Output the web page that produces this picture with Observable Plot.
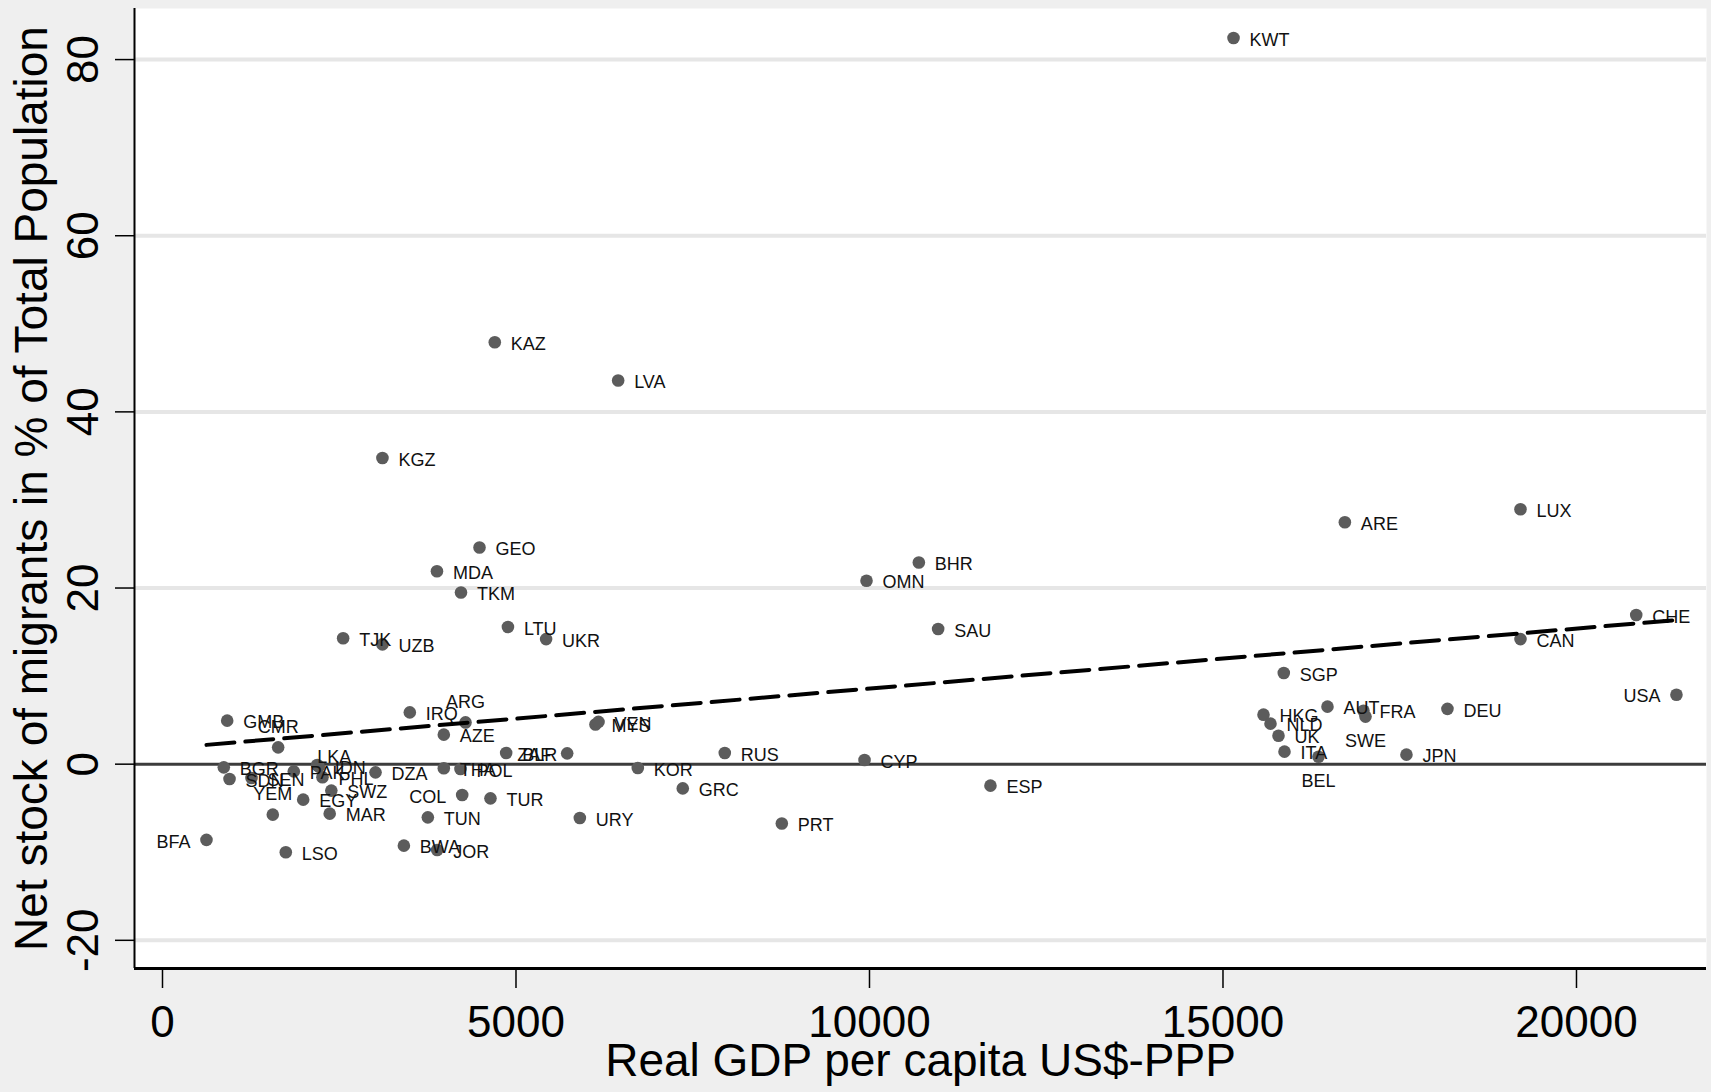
<!DOCTYPE html>
<html>
<head>
<meta charset="utf-8">
<script src="https://cdn.jsdelivr.net/npm/d3@7"></script>
<script src="https://cdn.jsdelivr.net/npm/@observablehq/plot@0.6"></script>
<style>
  html, body { margin: 0; padding: 0; background: #efefef; }
  #chart svg { display: block; }
</style>
</head>
<body>
<div id="chart"></div>
<script>
// ---- data ----
const countries = ["KWT","KAZ","LVA","KGZ","GEO","MDA","TKM","LTU","UKR","TJK","UZB",
  "ARE","LUX","BHR","OMN","SAU","CHE","CAN","SGP","USA","DEU","AUT","FRA","SWE","HKG",
  "NLD","UK","ITA","BEL","JPN","GMB","CMR","BGR","SDN","SEN","YEM","LSO","BFA","PAK",
  "LKA","IDN","PHL","EGY","SWZ","MAR","DZA","IRQ","ARG","AZE","THA","POL","COL","TUR",
  "TUN","BWA","JOR","BLR","ZAF","MYS","VEN","KOR","GRC","RUS","URY","PRT","CYP","ESP"];
const gdpPerCapita = [15149,4700,6445,3111,4484,3882,4222,4886,5426,2555,3111,
  16724,19208,10698,9958,10971,20845,19208,15860,21414,18175,16478,16987,17016,15573,
  15672,15785,15870,16351,17595,915,1636,867,948,1259,1560,1744,622,1857,
  2188,2210,2263,1990,2388,2365,3013,3498,4286,3979,3979,4215,4239,4639,
  3753,3414,3885,4861,5724,6124,6167,6723,7359,7953,5903,8760,9930,11711];
const netMigrants = [82.45,47.9,43.56,34.77,24.6,21.9,19.5,15.57,14.2,14.3,13.6,
  27.46,28.94,22.9,20.83,15.35,16.93,14.2,10.36,7.89,6.28,6.53,6.07,5.4,5.62,
  4.6,3.23,1.42,0.85,1.08,4.94,1.91,-0.36,-1.68,-1.57,-5.73,-10.0,-8.6,-0.82,
  -0.09,-0.28,-1.48,-4.03,-3.0,-5.62,-0.93,5.88,4.74,3.35,-0.47,-0.55,-3.5,-3.88,
  -6.04,-9.25,-9.74,1.27,1.23,4.5,4.8,-0.43,-2.75,1.27,-6.11,-6.73,0.47,-2.44];
// fitted line end points
const fitX = [622, 21414];
const fitY = [2.19, 16.36];
// ticks and labels
const xTicks = [0, 5000, 10000, 15000, 20000];
const yTicks = [-20, 0, 20, 40, 60, 80];
const xTitle = "Real GDP per capita US$-PPP";
const yTitle = "Net stock of migrants in % of Total Population";
// label placement groups (clock positions)
const labelLeft = ["BFA","USA","COL","ZAF"];
const labelTop = ["CMR","YEM","ARG"];
const labelTopRight = ["LKA"];
const labelBottom = ["BEL","SWE"];

const xDomain = [-396, 21839];
const yDomain = [-23.2, 85.8];

const points = countries.map((c, i) => ({code: c, x: gdpPerCapita[i], y: netMigrants[i]}));
const fit = fitX.map((x, i) => ({x, y: fitY[i]}));
const special = new Set([...labelLeft, ...labelTop, ...labelTopRight, ...labelBottom]);

const FONT = "'Liberation Sans', Arial, Helvetica, sans-serif";
const labelStyle = {x: "x", y: "y", text: "code", fontSize: 18, fill: "#111", fontFamily: FONT};

const chart = Plot.plot({
  width: 1711,
  height: 1092,
  marginLeft: 134,
  marginRight: 5,
  marginTop: 8,
  marginBottom: 124,
  style: {background: "#efefef", fontFamily: FONT},
  x: {domain: xDomain, axis: null},
  y: {domain: yDomain, axis: null},
  marks: [
    Plot.frame({fill: "white", stroke: null}),
    Plot.ruleY(yTicks.filter(d => d !== 0), {stroke: "#e6e6e6", strokeWidth: 4}),
    Plot.ruleY([0], {stroke: "#3c3c3c", strokeWidth: 3}),
    // axis lines
    Plot.ruleX([xDomain[0]], {stroke: "#000", strokeWidth: 2}),
    Plot.ruleY([yDomain[0]], {stroke: "#000", strokeWidth: 3}),
    // ticks
    Plot.axisY(yTicks, {anchor: "left", tickSize: 19, tickFormat: () => "", label: null, stroke: "#000", strokeWidth: 1.5}),
    Plot.axisX(xTicks, {anchor: "bottom", tickSize: 20, tickFormat: () => "", label: null, stroke: "#000", strokeWidth: 1.5}),
    // tick labels
    Plot.text(yTicks, {y: d => d, text: d => String(d), frameAnchor: "left", dx: -51, rotate: -90,
      textAnchor: "middle", lineAnchor: "middle", fontSize: 44, fill: "#000", fontFamily: FONT}),
    Plot.text(xTicks, {x: d => d, text: d => String(d), frameAnchor: "bottom", dy: 54,
      textAnchor: "middle", lineAnchor: "middle", fontSize: 44, fill: "#000", fontFamily: FONT}),
    // axis titles
    Plot.text([xTitle], {frameAnchor: "bottom", dy: 93, textAnchor: "middle", lineAnchor: "middle", fontSize: 46, fill: "#000", fontFamily: FONT}),
    Plot.text([yTitle], {frameAnchor: "left", dx: -102, rotate: -90, textAnchor: "middle", lineAnchor: "middle", fontSize: 46, fill: "#000", fontFamily: FONT}),
    // scatter
    Plot.dot(points, {x: "x", y: "y", r: 6.3, fill: "#5c5c5c", stroke: null}),
    // marker labels
    Plot.text(points.filter(d => !special.has(d.code)), {...labelStyle, textAnchor: "start", dx: 16, dy: 2}),
    Plot.text(points.filter(d => labelLeft.includes(d.code)), {...labelStyle, textAnchor: "end", dx: -16, dy: 2}),
    Plot.text(points.filter(d => labelTop.includes(d.code)), {...labelStyle, textAnchor: "middle", dy: -20}),
    Plot.text(points.filter(d => labelTopRight.includes(d.code)), {...labelStyle, textAnchor: "start", dx: 0, dy: -8}),
    Plot.text(points.filter(d => labelBottom.includes(d.code)), {...labelStyle, textAnchor: "middle", dy: 25}),
    // fitted line
    Plot.line(fit, {x: "x", y: "y", stroke: "#000", strokeWidth: 4, strokeDasharray: "28,11"})
  ]
});
document.getElementById("chart").appendChild(chart);
</script>
</body>
</html>
